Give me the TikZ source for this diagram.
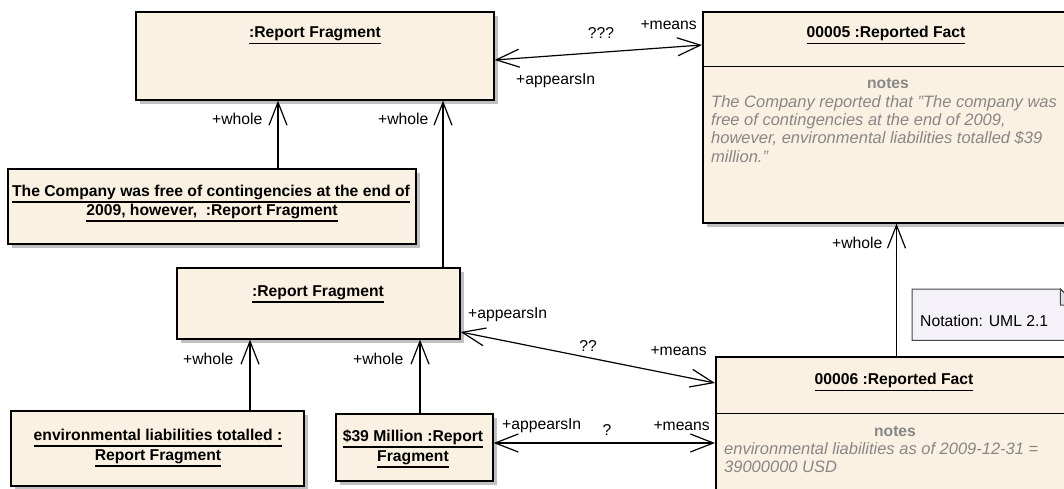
\documentclass[tikz,border=0pt]{standalone}
\usepackage{fontspec}
\setmainfont{Liberation Sans}
\usetikzlibrary{arrows.meta,shadows,calc}
\definecolor{boxfill}{RGB}{251,241,226}
\definecolor{notefill}{RGB}{244,242,248}
\definecolor{notefold}{RGB}{225,223,230}
\definecolor{notegray}{RGB}{135,135,135}
\definecolor{shadowgray}{RGB}{192,192,192}
\definecolor{noteline}{RGB}{70,70,70}
\newcommand\ulin[1]{\setbox0=\hbox{#1}\rlap{\rule[-6.6pt]{\wd0}{1.2pt}}\box0}
\newcommand\sq{{\char34}}
\begin{document}
\begin{tikzpicture}[x=1pt,y=-1pt,
  objbox/.style={draw=black, line width=1.6pt, fill=boxfill, inner sep=0pt, anchor=north west,
    drop shadow={shadow xshift=4pt, shadow yshift=-4pt, fill=shadowgray, opacity=1}},
  divider/.style={line width=1pt, draw=black},
  title/.style={font=\fontsize{15.7}{19}\selectfont\bfseries, inner sep=0pt, anchor=base},
  lbl/.style={font=\fontsize{15.7}{18}\selectfont, inner sep=0pt},
  notehead/.style={font=\fontsize{15.7}{18}\selectfont\bfseries, text=notegray, inner sep=0pt, anchor=base},
  notetext/.style={font=\fontsize{16.5}{18.4}\selectfont\itshape, text=notegray, inner sep=0pt, anchor=base west},
  notebox/.style={draw=noteline, line width=1pt, fill=notefill},
  conn/.style={line width=1.2pt, draw=black, >={Straight Barb[length=23pt,width=18pt]}},
]
\path[use as bounding box] (0,0) rectangle (1064,489);
\clip (0,0) rectangle (1064,489);

% boxes
\node[objbox, minimum width=358pt, minimum height=88pt] (A) at (135,11) {};
\node[objbox, minimum width=368pt, minimum height=211pt] (C) at (702,11) {};
\node[objbox, minimum width=408pt, minimum height=75pt] (B) at (7,168) {};
\node[objbox, minimum width=283pt, minimum height=71pt] (D) at (176,267) {};
\node[objbox, minimum width=293pt, minimum height=75pt] (E) at (10,410) {};
\node[objbox, minimum width=157pt, minimum height=67pt] (F) at (335,413) {};
\node[objbox, minimum width=358pt, minimum height=150pt] (G) at (715,356) {};

\draw[divider] ($(C.north west)+(0,56)$) -- ($(C.north east)+(0,56)$);
\draw[divider] ($(G.north west)+(0,57)$) -- ($(G.north east)+(0,57)$);

% note
\node[inner sep=0pt, minimum width=164pt, minimum height=51pt, anchor=north west] (N) at (912,289) {};
\filldraw[notebox] (N.north west) -- ($(N.north east)+(-16,0)$) -- ($(N.north east)+(0,16)$) -- (N.south east) -- (N.south west) -- cycle;
\filldraw[notebox, fill=notefold] ($(N.north east)+(-16,0)$) -- ($(N.north east)+(-16,16)$) -- ($(N.north east)+(0,16)$) -- cycle;
\node[lbl, anchor=base west] (nt) at (920,326.7) {Notation: UML 2.1};

% titles
\node[title] (tA) at (315,37.5) {\ulin{:Report Fragment}};
\node[title] (tC) at (886,37.5) {\ulin{00005 :Reported Fact}};
\node[title] (tB1) at (211,196) {\ulin{The Company was free of contingencies at the end of}};
\node[title] (tB2) at (212,215) {\ulin{2009, however,\ \ :Report Fragment}};
\node[title] (tD) at (318,296) {\ulin{:Report Fragment}};
\node[title] (tE1) at (158,440) {\ulin{environmental liabilities totalled :}};
\node[title] (tE2) at (158,460) {\ulin{Report Fragment}};
\node[title] (tF1) at (413,441) {\ulin{\$39 Million :Report}};
\node[title] (tF2) at (413,461) {\ulin{Fragment}};
\node[title] (tG) at (894,384.3) {\ulin{00006 :Reported Fact}};

% notes compartments
\node[notehead] (nC) at (888,88.3) {notes};
\node[notetext] (nC1) at (711,107.3) {The Company reported that \sq The company was};
\node[notetext] (nC2) at (711,125.7) {free of contingencies at the end of 2009,};
\node[notetext] (nC3) at (711,144) {however, environmental liabilities totalled \$39};
\node[notetext] (nC4) at (711,162.3) {million.\sq};
\node[notehead] (nG) at (895,436) {notes};
\node[notetext] (nG1) at (724,454) {environmental liabilities as of 2009-12-31 =};
\node[notetext] (nG2) at (724,472) {39000000 USD};

% connector positions
\coordinate (x1) at (278,0);
\coordinate (x2) at (443,0);
\coordinate (x3) at (250,0);
\coordinate (x4) at (420,0);
\coordinate (x5) at (896.5,0);
\coordinate (y1) at (0,60);
\coordinate (y2) at (0,45);
\coordinate (y3) at (0,332);
\coordinate (y4) at (0,383);
\coordinate (y5) at (0,443);

\draw[conn,->] (B.north -| x1) -- (A.south -| x1);
\draw[conn,->] (D.north -| x2) -- (A.south -| x2);
\draw[conn,->] (E.north -| x3) -- (D.south -| x3);
\draw[conn,->] (F.north -| x4) -- (D.south -| x4);
\draw[conn,->] (G.north -| x5) -- (C.south -| x5);
\draw[conn,<->] (A.east |- y1) -- (C.west |- y2);
\draw[conn,<->] (D.east |- y3) -- (G.west |- y4);
\draw[conn,<->] (F.east |- y5) -- (G.west |- y5);

% labels
\node[lbl, anchor=base west] (l1) at (212,125) {+whole};
\node[lbl, anchor=base west] (l2) at (378,125) {+whole};
\node[lbl, anchor=base west] (l3) at (183,364.3) {+whole};
\node[lbl, anchor=base west] (l4) at (353,364.3) {+whole};
\node[lbl, anchor=base west] (l5) at (832,248.3) {+whole};
\node[lbl, anchor=base east] (l6) at (697,30) {+means};
\node[lbl, anchor=base] (l7) at (601,38.3) {???};
\node[lbl, anchor=base west] (l8) at (516,85) {+appearsIn};
\node[lbl, anchor=base west] (l9) at (468,318.3) {+appearsIn};
\node[lbl, anchor=base] (l10) at (588,351.7) {??};
\node[lbl, anchor=base east] (l11) at (707,355) {+means};
\node[lbl, anchor=base west] (l12) at (502,429) {+appearsIn};
\node[lbl, anchor=base] (l13) at (607,435) {?};
\node[lbl, anchor=base east] (l14) at (710,430) {+means};
\end{tikzpicture}
\end{document}
